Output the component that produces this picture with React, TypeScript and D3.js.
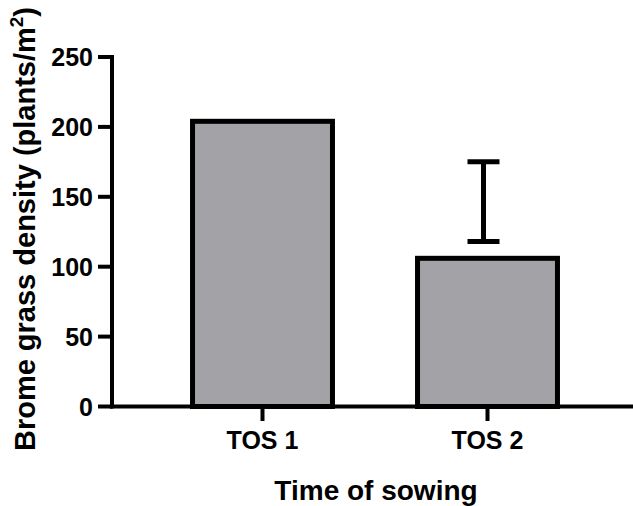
import React from "react";
import * as d3 from "d3";

const categories = ["TOS 1", "TOS 2"];
const values = [204, 106];
const errLow: (number | null)[] = [null, 118];
const errHigh: (number | null)[] = [null, 175];
const yTicks = [0, 50, 100, 150, 200, 250];

const W = 633;
const H = 506;

export default function App() {
  const x = d3
    .scaleBand<string>()
    .domain(categories)
    .range([150, 600])
    .paddingInner(0.378)
    .paddingOuter(0.189);
  const y = d3.scaleLinear().domain([0, 250]).range([406.5, 57]);
  const axisX = 112;
  const font = "'Liberation Sans', Arial, sans-serif";
  const fill = "#a3a2a7";

  return (
    <svg
      width={W}
      height={H}
      style={{ position: "absolute", left: 0, top: 0 }}
      fontFamily={font}
      fontWeight="bold"
    >
      {/* bars */}
      {categories.map((c, i) => {
        const x0 = x(c)!;
        const bw = x.bandwidth();
        return (
          <rect
            key={c}
            x={x0}
            y={y(values[i])}
            width={bw}
            height={y(0) - y(values[i])}
            fill={fill}
            stroke="#000"
            strokeWidth={5}
          />
        );
      })}
      {/* error bars */}
      {categories.map((c, i) => {
        const lo = errLow[i];
        const hi = errHigh[i];
        if (lo == null || hi == null) return null;
        const cx = x(c)! + x.bandwidth() / 2 - 4;
        const hw = 16;
        return (
          <g key={"e" + c} stroke="#000" strokeWidth={5}>
            <line x1={cx} x2={cx} y1={y(lo)} y2={y(hi)} />
            <line x1={cx - hw} x2={cx + hw} y1={y(hi)} y2={y(hi)} />
            <line x1={cx - hw} x2={cx + hw} y1={y(lo)} y2={y(lo)} />
          </g>
        );
      })}
      {/* y axis */}
      <line x1={axisX} x2={axisX} y1={y(250) - 2} y2={y(0) + 2} stroke="#000" strokeWidth={4} />
      {yTicks.map((t) => (
        <g key={t}>
          <line x1={98} x2={axisX} y1={y(t)} y2={y(t)} stroke="#000" strokeWidth={4} />
          <text x={93} y={y(t) + 9} textAnchor="end" fontSize={25} fill="#000">
            {t}
          </text>
        </g>
      ))}
      {/* x axis */}
      <line x1={axisX - 2} x2={W} y1={y(0)} y2={y(0)} stroke="#000" strokeWidth={4} />
      {categories.map((c) => {
        const cx = x(c)! + x.bandwidth() / 2;
        return (
          <g key={"t" + c}>
            <line x1={cx} x2={cx} y1={y(0)} y2={421} stroke="#000" strokeWidth={4} />
            <text x={cx} y={449} textAnchor="middle" fontSize={25} fill="#000">
              {c}
            </text>
          </g>
        );
      })}
      {/* axis titles */}
      <text x={376} y={500} textAnchor="middle" fontSize={28} fill="#000">
        Time of sowing
      </text>
      <text
        transform="translate(35,229) rotate(-90)"
        textAnchor="middle"
        fontSize={29}
        fill="#000"
      >
        Brome grass density (plants/m
        <tspan fontSize={19} dy={-12}>2</tspan>
        <tspan dy={12}>)</tspan>
      </text>
    </svg>
  );
}
